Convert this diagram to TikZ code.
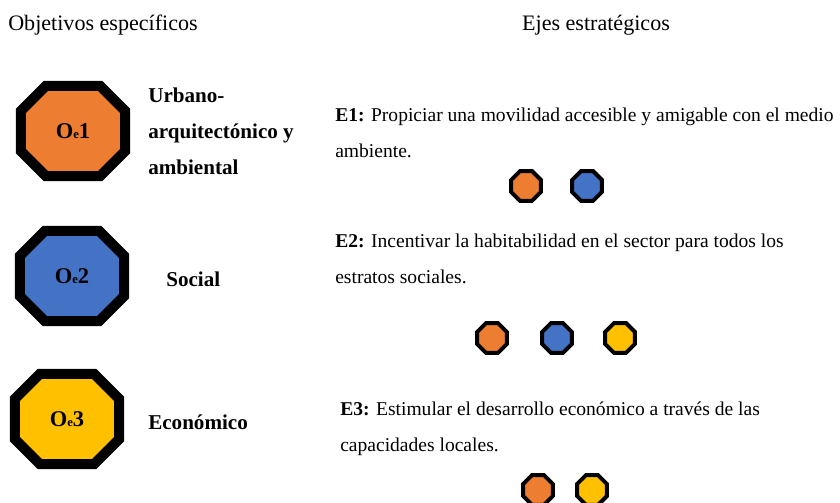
\documentclass[tikz,border=0pt]{standalone}
\usepackage{fontspec}
\setmainfont{Liberation Serif}
\usepackage{xcolor}
\usetikzlibrary{shapes.misc,shapes.geometric}
\definecolor{naranja}{HTML}{ED7D31}
\definecolor{azul}{HTML}{4472C4}
\definecolor{amarillo}{HTML}{FFC000}
\begin{document}
\begin{tikzpicture}[x=0.025cm,y=-0.025cm,
  obj/.style={chamfered rectangle,draw=black,line width=0.25cm,inner sep=0pt,
    minimum width=2.6cm,minimum height=2.25cm,chamfered rectangle sep=0.6cm,
    font=\fontsize{16}{18}\selectfont\bfseries},
  eje/.style={regular polygon,regular polygon sides=8,
    draw=black,line width=0.1cm,inner sep=0pt,minimum size=0.8cm},
  tema/.style={anchor=west,align=left,inner sep=0pt,font=\fontsize{15}{25.6}\selectfont\bfseries},
  texto/.style={anchor=west,align=left,inner sep=0pt,font=\fontsize{13.9}{25.6}\selectfont},
  titulo/.style={inner sep=0pt,font=\fontsize{15.7}{18}\selectfont}]
\useasboundingbox (0,0) rectangle (840,503);
% titulos
\node[titulo,anchor=west](tobj) at (8,25) {Objetivos específicos};
\node[titulo](teje) at (596,25) {Ejes estratégicos};
% objetivos
\node[obj,fill=naranja](o1) at (73,131) {O{\fontsize{9}{9}\selectfont e}1};
\node[obj,fill=azul](o2) at (72,276) {O{\fontsize{9}{9}\selectfont e}2};
\node[obj,fill=amarillo](o3) at (67,419) {O{\fontsize{9}{9}\selectfont e}3};
\node[tema](l1) at (148,131) {Urbano-\\arquitectónico y\\ambiental};
\node[tema](l2) at (166,279) {Social};
\node[tema](l3) at (148,422) {Económico};
% ejes
\node[texto](e1) at (335,133) {\textbf{E1:} Propiciar una movilidad accesible y amigable con el medio\\ambiente.};
\node[eje,fill=naranja](e1a) at (526,186) {};
\node[eje,fill=azul](e1b) at (587,186) {};
\node[texto](e2) at (335,259) {\textbf{E2:} Incentivar la habitabilidad en el sector para todos los\\estratos sociales.};
\node[eje,fill=naranja](e2a) at (492,338) {};
\node[eje,fill=azul](e2b) at (557,338) {};
\node[eje,fill=amarillo](e2c) at (620,338) {};
\node[texto](e3) at (340,429) {\textbf{E3:} Estimular el desarrollo económico a través de las\\capacidades locales.};
\node[eje,fill=naranja](e3a) at (538,490) {};
\node[eje,fill=amarillo](e3b) at (592,490) {};
\end{tikzpicture}
\end{document}
